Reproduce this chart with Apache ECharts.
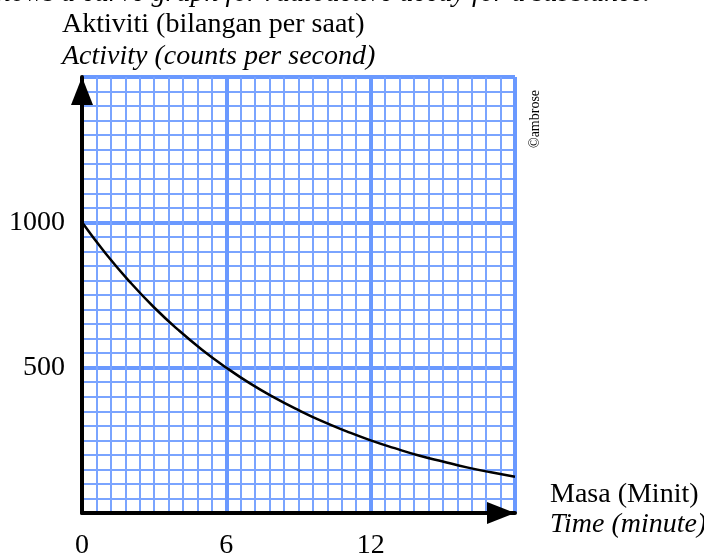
<!DOCTYPE html>
<html>
<head>
<meta charset="utf-8">
<script src="https://cdn.jsdelivr.net/npm/echarts@6/dist/echarts.min.js"></script>
<style>
  html, body { margin: 0; padding: 0; background: #fff; }
  #main { width: 704px; height: 554px; }
</style>
</head>
<body>
<div id="main"></div>
<script>
// masa (minit) dan aktiviti (bilangan per saat)
var masa = [0, 1, 2, 3, 4, 5, 6, 7, 8, 9, 10, 11, 12, 13, 14, 15, 16, 17, 18];
var aktiviti = [1000, 891, 794, 707, 630, 561, 500, 445, 397, 354, 315, 281, 250, 223, 198, 177, 157, 140, 125];
var xLabels = [0, 6, 12];
var yLabels = [500, 1000];

var serif = 'Liberation Serif';
var blue = '#6a99ff';
var blueMinor = '#7aa4ff';

var points = [];
for (var i = 0; i < masa.length; i++) {
  points.push([masa[i], aktiviti[i]]);
}

var myChart = echarts.init(document.getElementById('main'));
var option = {
  animation: false,
  backgroundColor: '#fff',
  grid: {
    left: 82,
    right: 189,
    top: 77,
    bottom: 41,
    containLabel: false,
    outerBoundsMode: 'none'
  },
  xAxis: {
    type: 'value',
    min: 0,
    max: 18,
    interval: 6,
    axisLine: {
      show: true,
      symbol: ['none', 'triangle'],
      symbolSize: [22, 28],
      symbolOffset: [0, -14],
      lineStyle: { color: '#000', width: 4 }
    },
    axisTick: { show: false },
    axisLabel: {
      margin: 19,
      fontFamily: serif,
      fontSize: 28,
      color: '#000',
      formatter: function (v) { return xLabels.indexOf(v) >= 0 ? String(v) : ''; }
    },
    splitLine: { show: true, lineStyle: { color: blue, width: 4 } },
    minorTick: { show: false, splitNumber: 10 },
    minorSplitLine: { show: true, lineStyle: { color: blueMinor, width: 2 } }
  },
  yAxis: {
    type: 'value',
    min: 0,
    max: 1500,
    interval: 500,
    axisLine: {
      show: true,
      symbol: ['none', 'triangle'],
      symbolSize: [22, 28],
      symbolOffset: [0, -14],
      lineStyle: { color: '#000', width: 4 }
    },
    axisTick: { show: false },
    axisLabel: {
      margin: 17,
      fontFamily: serif,
      fontSize: 28,
      color: '#000',
      formatter: function (v) { return yLabels.indexOf(v) >= 0 ? String(v) : ''; }
    },
    splitLine: { show: true, lineStyle: { color: blue, width: 4 } },
    minorTick: { show: false, splitNumber: 10 },
    minorSplitLine: { show: true, lineStyle: { color: blueMinor, width: 2 } }
  },
  series: [{
    type: 'line',
    data: points,
    smooth: true,
    symbol: 'none',
    lineStyle: { color: '#000', width: 2.5 },
    z: 5
  }],
  graphic: [
    {
      type: 'text', right: 54, top: -20,
      style: { text: 'Diagram shows a curve graph for radioactive decay for a substance.', font: 'italic 28px ' + serif, fill: '#000' }
    },
    {
      type: 'text', left: 62, top: 11,
      style: { text: 'Aktiviti (bilangan per saat)', font: '28px ' + serif, fill: '#000' }
    },
    {
      type: 'text', left: 62, top: 43,
      style: { text: 'Activity (counts per second)', font: 'italic 28px ' + serif, fill: '#000' }
    },
    {
      type: 'text', left: 550, top: 481,
      style: { text: 'Masa (Minit)', font: '28px ' + serif, fill: '#000' }
    },
    {
      type: 'text', left: 550, top: 511,
      style: { text: 'Time (minute)', font: 'italic 28px ' + serif, fill: '#000' }
    },
    {
      type: 'text', x: 528, y: 148, rotation: Math.PI / 2,
      style: { text: '\u00a9ambrose', font: '14px ' + serif, fill: '#000' }
    }
  ]
};
myChart.setOption(option);
</script>
</body>
</html>
